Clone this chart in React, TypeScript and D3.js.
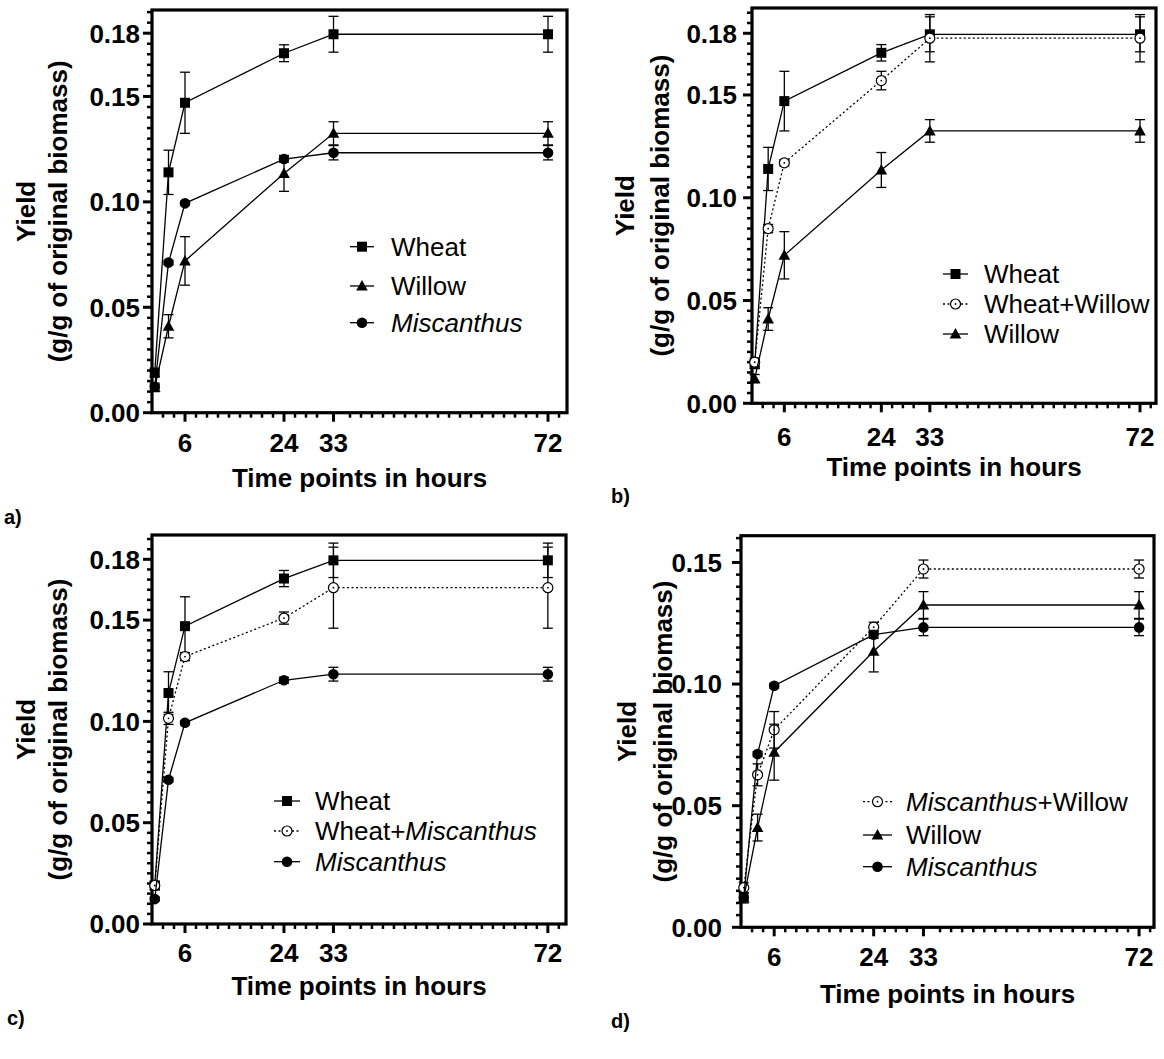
import React, { useEffect, useRef } from 'react';
import * as d3 from 'd3';

// sampling times (h) and yields (g/g of original biomass), mean and error
const hours = [0.5, 3, 6, 24, 33, 72];
const wheat = [0.019, 0.114, 0.147, 0.1705, 0.1795, 0.1795];
const wheatErr = [0.002, 0.0105, 0.0145, 0.004, 0.0085, 0.0085];
const willow = [0.012, 0.041, 0.072, 0.1135, 0.1325, 0.1325];
const willowErr = [0.002, 0.0055, 0.0115, 0.0085, 0.0055, 0.0055];
const miscanthus = [0.0123, 0.0712, 0.0993, 0.1203, 0.1233, 0.1233];
const miscanthusErr = [0.001, 0.001, 0.001, 0.0015, 0.0034, 0.0034];
const wheatWillow = [0.02, 0.085, 0.117, 0.157, 0.1776, 0.1776];
const wheatWillowErr = [0.002, 0.002, 0.0015, 0.0045, 0.0115, 0.0115];
const wheatMiscanthus = [0.019, 0.1015, 0.132, 0.151, 0.166, 0.166];
const wheatMiscanthusErr = [0.002, 0.003, 0.002, 0.003, 0.02, 0.02];
const miscanthusWillow = [0.0163, 0.0627, 0.0812, 0.1234, 0.1473, 0.1473];
const miscanthusWillowErr = [0.002, 0.0045, 0.0075, 0.002, 0.0037, 0.0037];

const xTickValues = [6, 24, 33, 72];
const yTicksFull = [0, 0.05, 0.1, 0.15, 0.18];
const yTicksShort = [0, 0.05, 0.1, 0.15];

// legend entries: [text, italic?] pieces
const sWheat = { label: [['Wheat', false]], values: wheat, errors: wheatErr, marker: 'square', dotted: false };
const sWillow = { label: [['Willow', false]], values: willow, errors: willowErr, marker: 'triangle', dotted: false };
const sMisc = { label: [['Miscanthus', true]], values: miscanthus, errors: miscanthusErr, marker: 'circle', dotted: false };
const sWheatWillow = { label: [['Wheat+Willow', false]], values: wheatWillow, errors: wheatWillowErr, marker: 'open', dotted: true };
const sWheatMisc = { label: [['Wheat+', false], ['Miscanthus', true]], values: wheatMiscanthus, errors: wheatMiscanthusErr, marker: 'open', dotted: true };
const sMiscWillow = { label: [['Miscanthus', true], ['+Willow', false]], values: miscanthusWillow, errors: miscanthusWillowErr, marker: 'open', dotted: true };

const panels = [
  { tag: 'a)', tagX: 4, tagY: 524, left: 152, right: 567, top: 10, bottom: 412.7, xMax: 75.45, yMax: 0.191, yTicks: yTicksFull,
    tickGap: 12, yLab1: 26, yLab2: 58, tickBase: 452, titleBase: 487,
    legend: { x0: 350, x1: 374, tx: 391, rows: [246.7, 286, 322.7] }, series: [sWheat, sWillow, sMisc] },
  { tag: 'b)', tagX: 611, tagY: 503, left: 752, right: 1156, top: 8, bottom: 403.3, xMax: 74.97, yMax: 0.1923, yTicks: yTicksFull,
    tickGap: 15, yLab1: 625, yLab2: 660, tickBase: 446, titleBase: 476,
    legend: { x0: 943, x1: 968, tx: 984, rows: [274, 304, 334] }, series: [sWheat, sWheatWillow, sWillow] },
  { tag: 'c)', tagX: 7, tagY: 1025, left: 152, right: 566, top: 535, bottom: 924, xMax: 75.3, yMax: 0.192, yTicks: yTicksFull,
    tickGap: 12, yLab1: 26, yLab2: 58, tickBase: 962, titleBase: 995,
    legend: { x0: 274, x1: 300, tx: 315, rows: [801, 831, 861.7] }, series: [sWheat, sWheatMisc, sMisc] },
  { tag: 'd)', tagX: 611, tagY: 1028, left: 741, right: 1154, top: 535.7, bottom: 927.3, xMax: 74.7, yMax: 0.161, yTicks: yTicksShort,
    tickGap: 19, yLab1: 627, yLab2: 663, tickBase: 966, titleBase: 1003,
    legend: { x0: 863, x1: 892, tx: 906, rows: [801.7, 835, 866.7] }, series: [sMiscWillow, sWillow, sMisc] },
];

const FONT = '"Liberation Sans", Arial, sans-serif';

function drawMarker(g, kind, x, y) {
  if (kind === 'square') {
    g.append('rect').attr('x', x - 5).attr('y', y - 5).attr('width', 10).attr('height', 10).attr('fill', '#000');
  } else if (kind === 'triangle') {
    g.append('path').attr('d', `M${x},${y - 6}L${x + 5.8},${y + 4.5}L${x - 5.8},${y + 4.5}Z`).attr('fill', '#000');
  } else if (kind === 'circle') {
    g.append('circle').attr('cx', x).attr('cy', y).attr('r', 5.3).attr('fill', '#000');
  } else {
    g.append('circle').attr('cx', x).attr('cy', y).attr('r', 5).attr('fill', '#fff').attr('stroke', '#000').attr('stroke-width', 1.2);
    g.append('circle').attr('cx', x).attr('cy', y).attr('r', 0.9).attr('fill', '#000');
  }
}

function App() {
  const ref = useRef(null);

  useEffect(() => {
    const svg = d3.select(ref.current);
    svg.selectAll('*').remove();

    panels.forEach((p) => {
      const g = svg.append('g');
      const x = d3.scaleLinear().domain([0, p.xMax]).range([p.left, p.right]);
      const y = d3.scaleLinear().domain([0, p.yMax]).range([p.bottom, p.top]);

      // minor ticks
      const yMinor = d3.range(0, p.yMax, 0.005).filter((v) => !p.yTicks.some((t) => Math.abs(t - v) < 1e-6));
      g.selectAll('.ymin').data(yMinor).join('line')
        .attr('x1', p.left - 5).attr('x2', p.left).attr('y1', (d) => y(d)).attr('y2', (d) => y(d))
        .attr('stroke', '#000').attr('stroke-width', 2.5);
      const xMinor = d3.range(2, p.xMax, 2).filter((v) => !xTickValues.some((t) => Math.abs(t - v) < 1.1));
      g.selectAll('.xmin').data(xMinor).join('line')
        .attr('x1', (d) => x(d)).attr('x2', (d) => x(d)).attr('y1', p.bottom).attr('y2', p.bottom + 5)
        .attr('stroke', '#000').attr('stroke-width', 2.5);

      // major ticks + labels
      g.selectAll('.ymaj').data(p.yTicks).join('line')
        .attr('x1', p.left - 9).attr('x2', p.left).attr('y1', (d) => y(d)).attr('y2', (d) => y(d))
        .attr('stroke', '#000').attr('stroke-width', 3);
      g.selectAll('.ylab').data(p.yTicks).join('text')
        .attr('x', p.left - p.tickGap).attr('y', (d) => y(d)).attr('dy', '0.36em')
        .attr('text-anchor', 'end').style('font', `bold 26px ${FONT}`)
        .text((d) => d3.format('.2f')(d));
      g.selectAll('.xmaj').data(xTickValues).join('line')
        .attr('x1', (d) => x(d)).attr('x2', (d) => x(d)).attr('y1', p.bottom).attr('y2', p.bottom + 9)
        .attr('stroke', '#000').attr('stroke-width', 3);
      g.selectAll('.xlab').data(xTickValues).join('text')
        .attr('x', (d) => x(d)).attr('y', p.tickBase)
        .attr('text-anchor', 'middle').style('font', `bold 26px ${FONT}`)
        .text((d) => d);

      // frame
      g.append('rect').attr('x', p.left).attr('y', p.top).attr('width', p.right - p.left).attr('height', p.bottom - p.top)
        .attr('fill', 'none').attr('stroke', '#000').attr('stroke-width', 3.2);

      // series: lines, error bars, markers
      p.series.forEach((s) => {
        const pts = hours.map((h, i) => [h, s.values[i], s.errors[i]]);
        const line = d3.line().x((d) => x(d[0])).y((d) => y(d[1]));
        g.append('path').attr('d', line(pts)).attr('fill', 'none').attr('stroke', '#000')
          .attr('stroke-width', 1.3).attr('stroke-dasharray', s.dotted ? '2,2.5' : null);
        pts.forEach((d) => {
          const cx = x(d[0]);
          const yt = y(d[1] + d[2]);
          const yb = y(d[1] - d[2]);
          g.append('line').attr('x1', cx).attr('x2', cx).attr('y1', yt).attr('y2', yb).attr('stroke', '#000').attr('stroke-width', 1.3);
          [yt, yb].forEach((yy) => {
            g.append('line').attr('x1', cx - 5).attr('x2', cx + 5).attr('y1', yy).attr('y2', yy).attr('stroke', '#000').attr('stroke-width', 1.3);
          });
        });
        pts.forEach((d) => drawMarker(g, s.marker, x(d[0]), y(d[1])));
      });

      // legend
      p.series.forEach((s, i) => {
        const ly = p.legend.rows[i];
        g.append('line').attr('x1', p.legend.x0).attr('x2', p.legend.x1).attr('y1', ly).attr('y2', ly)
          .attr('stroke', '#000').attr('stroke-width', 1.3).attr('stroke-dasharray', s.dotted ? '2,2.5' : null);
        drawMarker(g, s.marker, (p.legend.x0 + p.legend.x1) / 2, ly);
        const t = g.append('text').attr('x', p.legend.tx).attr('y', ly).attr('dy', '0.36em')
          .style('font', `26px ${FONT}`);
        s.label.forEach(([txt, it]) => {
          t.append('tspan').style('font-style', it ? 'italic' : 'normal').text(txt);
        });
      });

      // axis titles
      const cy = (p.top + p.bottom) / 2;
      g.append('text').attr('transform', `translate(${p.yLab1},${cy}) rotate(-90)`).attr('dy', '0.36em')
        .attr('text-anchor', 'middle').style('font', `bold 26px ${FONT}`).text('Yield');
      g.append('text').attr('transform', `translate(${p.yLab2},${cy}) rotate(-90)`).attr('dy', '0.36em')
        .attr('text-anchor', 'middle').style('font', `bold 26px ${FONT}`).text('(g/g of original biomass)');
      g.append('text').attr('x', (p.left + p.right) / 2).attr('y', p.titleBase)
        .attr('text-anchor', 'middle').style('font', `bold 26px ${FONT}`).text('Time points in hours');

      // panel tag
      g.append('text').attr('x', p.tagX).attr('y', p.tagY).style('font', `bold 20px ${FONT}`).text(p.tag);
    });
  }, []);

  return (
    <svg ref={ref} width={1164} height={1059} style={{ position: 'absolute', left: 0, top: 0, background: '#fff' }} />
  );
}

export default App;
